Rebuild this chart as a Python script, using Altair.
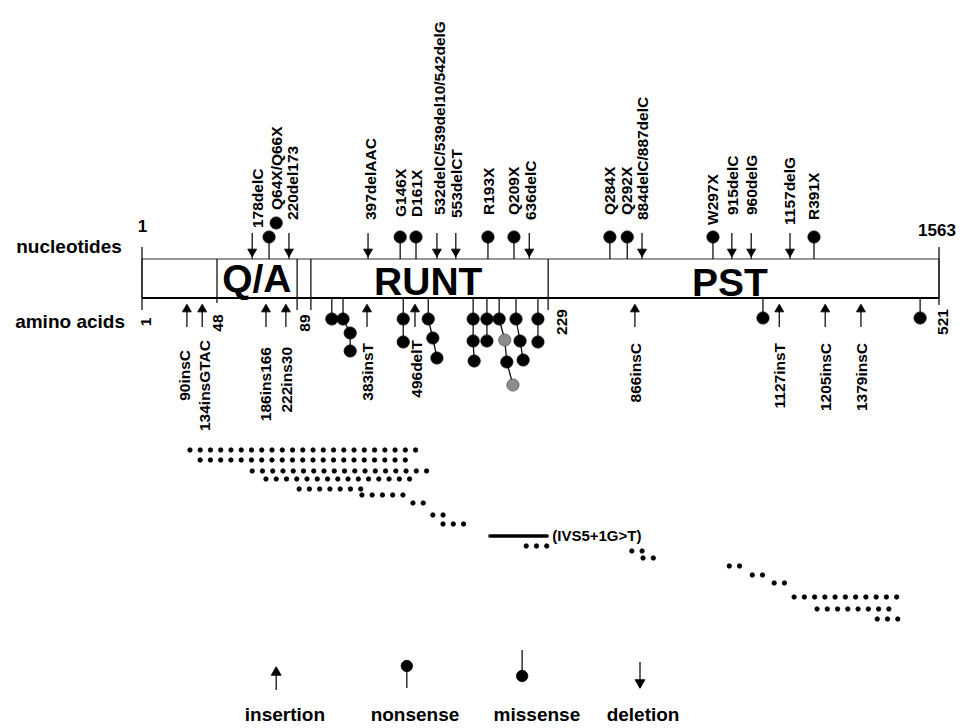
import altair as alt
import pandas as pd

FONT = "Liberation Sans"

# ---------------- data (x in nucleotide units of the schematic, y = row position) -------------
NT_MIN, NT_MAX = 1, 1563
BAR_TOP, BAR_BOTTOM = 259, 298

# mutations drawn above the bar (nucleotide scale)
top_label = ["178delC", "Q64X/Q66X", "220del173", "397delAAC", "G146X", "D161X",
             "532delC/539del10/542delG", "553delCT", "R193X", "Q209X", "636delC",
             "Q284X", "Q292X", "884delC/887delC", "W297X", "915delC", "960delG",
             "1157delG", "R391X"]
top_kind = ["del", "non", "del", "del", "non", "non", "del", "del", "non", "non", "del",
            "non", "non", "del", "non", "del", "del", "del", "non"]
top_pos = [217, 250, 289, 444, 507, 538, 579, 616, 679, 730, 760, 918, 952, 981,
           1120, 1157, 1195, 1271, 1318]
top_label_pos = [228, 266, 297, 450, 509, 540, 585, 618, 681, 730, 763, 918, 952, 983,
                 1120, 1159, 1197, 1271, 1318]
top_label_y = [228, 210, 220, 220, 217, 217, 215, 218, 215, 215, 220, 215, 215, 220,
               225, 215, 215, 225, 220]
extra_nonsense_pos = [264]
extra_nonsense_y = [223]

# insertions drawn below the bar
ins_label = ["90insC", "134insGTAC", "186ins166", "222ins30", "383insT", "496delT",
             "866insC", "1127insT", "1205insC", "1379insC"]
ins_pos = [89, 119, 244, 283, 442, 536, 967, 1250, 1340, 1410]
ins_label_pos = [85, 124, 244, 285, 444, 540, 969, 1251, 1342, 1412]
ins_label_y = [350, 340, 347, 347, 343, 340, 343, 343, 343, 343]

# missense mutations (amino-acid side), stacked columns
mis_cols_x = [[373], [395, 409, 409], [513, 513], [562, 571, 579], [650, 650, 652],
              [677, 677], [701, 712, 716, 728], [734, 742, 748], [777, 777], [1218], [1526]]
mis_cols_y = [[319], [319, 333, 351], [319, 342], [319, 338, 358], [319, 341, 361],
              [319, 341], [319, 340, 362, 385], [319, 341, 360], [319, 342], [318], [318]]
mis_cols_gray = [[0], [0, 0, 0], [0, 0], [0, 0, 0], [0, 0, 0], [0, 0], [0, 1, 0, 1],
                 [0, 0, 0], [0, 0], [0], [0]]

# domains
domain_name = ["Q/A", "RUNT", "PST"]
domain_pos = [226, 562, 1153]
domain_base = [292, 295, 296]
div_pos = [148, 305, 332, 797]
div_bottom = [303, 310, 310, 310]
end_pos = [NT_MIN, NT_MAX]
end_bottom = [310, 305]

aa_label = ["1", "48", "89", "229", "521"]
aa_pos = [9, 150, 320, 824, 1571]
aa_y = [322, 323, 323, 322, 322]

# patient dot rows
dot_row_start = [95, 115, 217, 244, 309, 432, 532, 571, 591, 754, 961, 983, 1152, 1197,
                 1240, 1279, 1324, 1442]
dot_row_y = [450, 460, 471, 479, 489, 495, 503, 515, 524, 546, 551, 558, 566, 575, 583,
             597, 609, 619]
dot_row_count = [23, 21, 18, 15, 7, 5, 2, 2, 3, 3, 2, 2, 2, 2, 2, 11, 8, 3]
DOT_STEP = 20.1

ivs_start, ivs_end, ivs_y = 683, 795, 536
ivs_label, ivs_label_pos = "(IVS5+1G>T)", 805

leg_label = ["insertion", "nonsense", "missense", "deletion"]
leg_label_pos = [281, 536, 775, 983]
leg_label_y = 715

# ---------------- build tables -------------
rules, points, texts_top, texts_bot = [], [], [], []
CIRC = 150
TRI = 80


def rule(x, y, y2, x2=None):
    rules.append({"x": x, "x2": x if x2 is None else x2, "y": y, "y2": y2})


def pt(x, y, shape, size, fill="black", stroke="black"):
    points.append({"x": x, "y": y, "shape": shape, "size": size, "fill": fill, "stroke": stroke})


for k, p, lp, ly, lab in zip(top_kind, top_pos, top_label_pos, top_label_y, top_label):
    if k == "del":
        rule(p, 233, BAR_TOP)
        pt(p, 253, "triangle-down", TRI)
    else:
        rule(p, 237, BAR_TOP)
        pt(p, 237, "circle", CIRC)
    texts_top.append({"x": lp, "y": ly, "t": lab})
for p, y in zip(extra_nonsense_pos, extra_nonsense_y):
    pt(p, y, "circle", CIRC)

for p, lp, ly, lab in zip(ins_pos, ins_label_pos, ins_label_y, ins_label):
    rule(p, 308, 327)
    pt(p, 308, "triangle-up", TRI)
    texts_bot.append({"x": lp, "y": ly, "t": lab})

for cx, cy, cg in zip(mis_cols_x, mis_cols_y, mis_cols_gray):
    rule(cx[0], BAR_BOTTOM, cy[0])
    for i in range(1, len(cx)):
        rules.append({"x": cx[i - 1], "x2": cx[i], "y": cy[i - 1], "y2": cy[i]})
    for x, y, g in zip(cx, cy, cg):
        if g:
            pt(x, y, "circle", CIRC, fill="#8c8c8c", stroke="#555555")
        else:
            pt(x, y, "circle", CIRC)

for p, b in zip(div_pos, div_bottom):
    rule(p, BAR_TOP, b)
for p, b in zip(end_pos, end_bottom):
    rule(p, 247, b)

for s, y, n in zip(dot_row_start, dot_row_y, dot_row_count):
    for i in range(n):
        pt(s + i * DOT_STEP, y, "circle", 20)

# legend symbols
rule(264, 671, 690); pt(264, 671, "triangle-up", 100)
rule(520, 666, 688); pt(520, 666, "circle", 130)
rule(746, 650, 676); pt(746, 676, "circle", 130)
rule(977, 662, 688); pt(977, 684, "triangle-down", 100)

rules_df = pd.DataFrame(rules)
points_df = pd.DataFrame(points)
top_df = pd.DataFrame(texts_top)
bot_df = pd.DataFrame(texts_bot)

xs = alt.Scale(domain=[NT_MIN, NT_MAX], range=[134, 931])
ys = alt.Scale(domain=[8, 726], range=[0, 718])
X = alt.X("x:Q", scale=xs, axis=None)
Y = alt.Y("y:Q", scale=ys, axis=None)

bar = alt.Chart(pd.DataFrame({"x": [NT_MIN], "x2": [NT_MAX], "y": [BAR_TOP], "y2": [BAR_BOTTOM]})).mark_rect(
    fill="white", stroke="#333333", strokeWidth=1.2
).encode(x=X, x2="x2:Q", y=Y, y2="y2:Q")

bar_bottom = alt.Chart(pd.DataFrame({"x": [NT_MIN], "x2": [NT_MAX], "y": [BAR_BOTTOM]})).mark_rule(
    color="black", strokeWidth=2.2
).encode(x=X, x2="x2:Q", y=Y)

ivs = alt.Chart(pd.DataFrame({"x": [ivs_start], "x2": [ivs_end], "y": [ivs_y]})).mark_rule(
    color="black", strokeWidth=3.5, strokeCap="round"
).encode(x=X, x2="x2:Q", y=Y)

rule_layer = alt.Chart(rules_df).mark_rule(color="#111111", strokeWidth=1.3).encode(
    x=X, x2="x2:Q", y=Y, y2="y2:Q")

point_layer = alt.Chart(points_df).mark_point(filled=True, opacity=1, strokeWidth=0.8).encode(
    x=X, y=Y,
    shape=alt.Shape("shape:N", scale=None),
    size=alt.Size("size:Q", scale=None),
    color=alt.Color("fill:N", scale=None),
    stroke=alt.Stroke("stroke:N", scale=None),
)

txt_kw = dict(font=FONT, fontWeight="bold", color="black")

top_text = alt.Chart(top_df).mark_text(angle=270, align="left", baseline="middle", fontSize=15.5, **txt_kw).encode(
    x=X, y=Y, text="t:N")
bot_text = alt.Chart(bot_df).mark_text(angle=270, align="right", baseline="middle", fontSize=15.5, **txt_kw).encode(
    x=X, y=Y, text="t:N")
aa_text = alt.Chart(pd.DataFrame({"x": aa_pos, "y": aa_y, "t": aa_label})).mark_text(
    angle=270, align="center", baseline="middle", fontSize=15.5, **txt_kw).encode(x=X, y=Y, text="t:N")

dom_text = alt.Chart(pd.DataFrame({"x": domain_pos, "y": domain_base, "t": domain_name})).mark_text(
    align="center", baseline="alphabetic", fontSize=39, **txt_kw).encode(x=X, y=Y, text="t:N")

side_text = alt.Chart(pd.DataFrame({"x": [-142, -140], "y": [247, 322], "t": ["nucleotides", "amino acids"]})).mark_text(
    align="center", baseline="middle", fontSize=19, **txt_kw).encode(x=X, y=Y, text="t:N")

end_text = alt.Chart(pd.DataFrame({"x": [2, 1559], "y": [227, 231], "t": ["1", "1563"]})).mark_text(
    align="center", baseline="middle", fontSize=17, **txt_kw).encode(x=X, y=Y, text="t:N")

ivs_text = alt.Chart(pd.DataFrame({"x": [ivs_label_pos], "y": [ivs_y], "t": [ivs_label]})).mark_text(
    align="left", baseline="middle", fontSize=15, **txt_kw).encode(x=X, y=Y, text="t:N")

leg_text = alt.Chart(pd.DataFrame({"x": leg_label_pos, "y": [leg_label_y] * 4, "t": leg_label})).mark_text(
    align="center", baseline="middle", fontSize=19, **txt_kw).encode(x=X, y=Y, text="t:N")

chart = alt.layer(
    bar, dom_text, rule_layer, bar_bottom, ivs, point_layer,
    top_text, bot_text, aa_text, side_text, end_text, ivs_text, leg_text
).properties(
    width=949, height=718, padding=0,
    autosize=alt.AutoSizeParams(type="none"),
    background="white",
).configure_view(stroke=None)

chart.save("out.html", embed_options={"renderer": "svg", "actions": False})
